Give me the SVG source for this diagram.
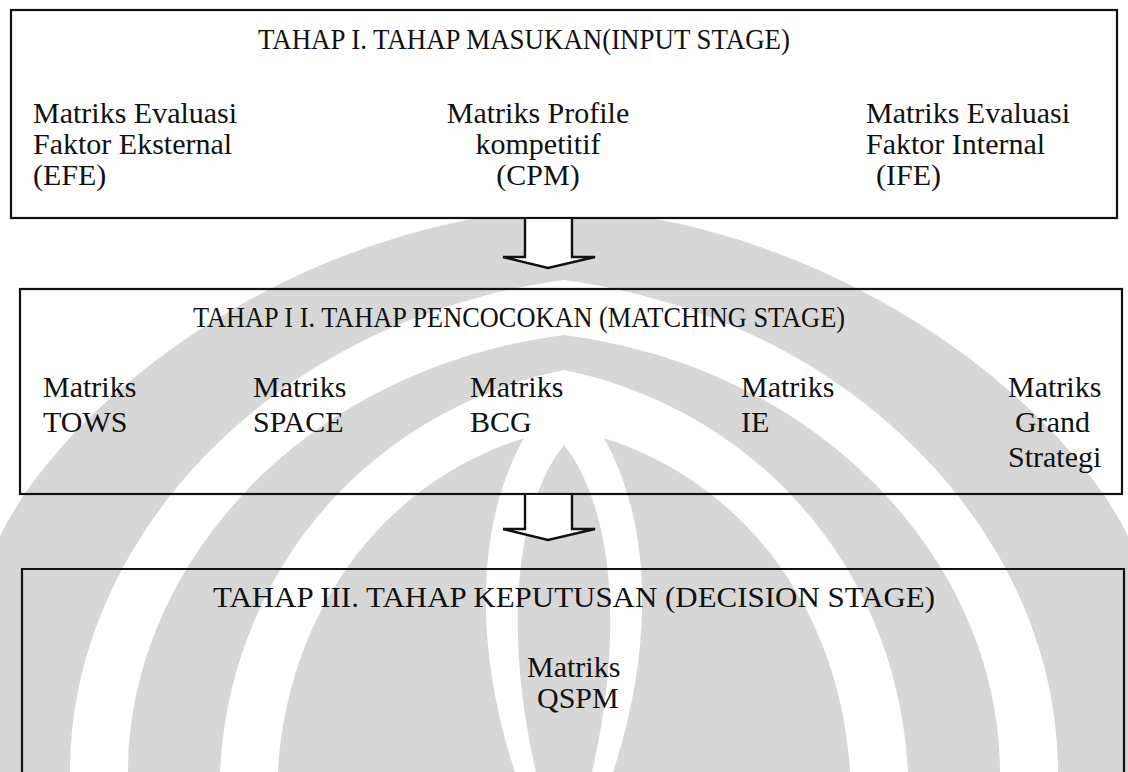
<svg xmlns="http://www.w3.org/2000/svg" width="1128" height="772" viewBox="0 0 1128 772">
<style>
  text { font-family: "Liberation Serif", "Times New Roman", serif; font-size: 30px; fill: #111; }
  .box { fill: none; stroke: #111; stroke-width: 2.2; }
  .arrow { fill: #fff; stroke: #111; stroke-width: 2.4; stroke-linejoin: miter; }
  .wm { fill: #d7d7d7; }
  .wmw { fill: #fff; }
</style>
<rect width="1128" height="772" fill="#fff"/>
<g id="watermark">
  <path class="wm" d="M-10,772 L-10,560 C40,420 280,222 564,208 C848,222 1088,420 1138,560 L1138,772 Z"/>
  <path class="wmw" d="M70,772 C70,540 270,320 564,280 C858,320 1058,540 1058,772 L1000,772 C1000,570 830,370 564,335 C298,370 128,570 128,772 Z"/>
  <path class="wmw" d="M220,772 C230,570 370,410 564,370 C758,410 898,570 908,772 L850,772 C840,600 730,460 564,428 C398,460 288,600 278,772 Z"/>
  <path class="wmw" d="M515,772 C465,620 478,470 564,385 C650,470 663,620 613,772 L592,772 C625,630 612,505 564,445 C516,505 503,630 536,772 Z"/>
</g>
<g id="stage1">
  <rect class="box" x="11" y="10" width="1106" height="208" style="fill:#fff"/>
  <text x="258" y="49" textLength="532" lengthAdjust="spacingAndGlyphs">TAHAP I. TAHAP MASUKAN(INPUT STAGE)</text>
  <text x="33" y="123">Matriks Evaluasi</text>
  <text x="33" y="154">Faktor Eksternal</text>
  <text x="33" y="185">(EFE)</text>
  <text x="538" y="123" text-anchor="middle">Matriks Profile</text>
  <text x="538" y="154" text-anchor="middle">kompetitif</text>
  <text x="538" y="185" text-anchor="middle">(CPM)</text>
  <text x="866" y="123">Matriks Evaluasi</text>
  <text x="866" y="154">Faktor Internal</text>
  <text x="876" y="185">(IFE)</text>
</g>
<g id="stage2">
  <rect class="box" x="20" y="289" width="1102" height="205"/>
  <text x="193" y="327" textLength="652" lengthAdjust="spacingAndGlyphs">TAHAP I I. TAHAP PENCOCOKAN (MATCHING STAGE)</text>
  <text x="43" y="397">Matriks</text>
  <text x="43" y="432">TOWS</text>
  <text x="253" y="397">Matriks</text>
  <text x="253" y="432">SPACE</text>
  <text x="470" y="397">Matriks</text>
  <text x="470" y="432">BCG</text>
  <text x="741" y="397">Matriks</text>
  <text x="741" y="432">IE</text>
  <text x="1008" y="397">Matriks</text>
  <text x="1015" y="432">Grand</text>
  <text x="1008" y="467">Strategi</text>
</g>
<g id="stage3">
  <path class="box" d="M22,790 L22,569 L1124,569 L1124,790"/>
  <text x="213" y="607" textLength="722" lengthAdjust="spacingAndGlyphs">TAHAP III. TAHAP KEPUTUSAN (DECISION STAGE)</text>
  <text x="527" y="677">Matriks</text>
  <text x="537" y="708">QSPM</text>
</g>
<g id="connectors">
  <path class="arrow" d="M525,219 L525,257 L503,257 L548,268 L595,257 L572,257 L572,219"/>
  <path class="arrow" d="M525,495 L525,529 L503,529 L548,540 L595,529 L572,529 L572,495"/>
</g>
</svg>
